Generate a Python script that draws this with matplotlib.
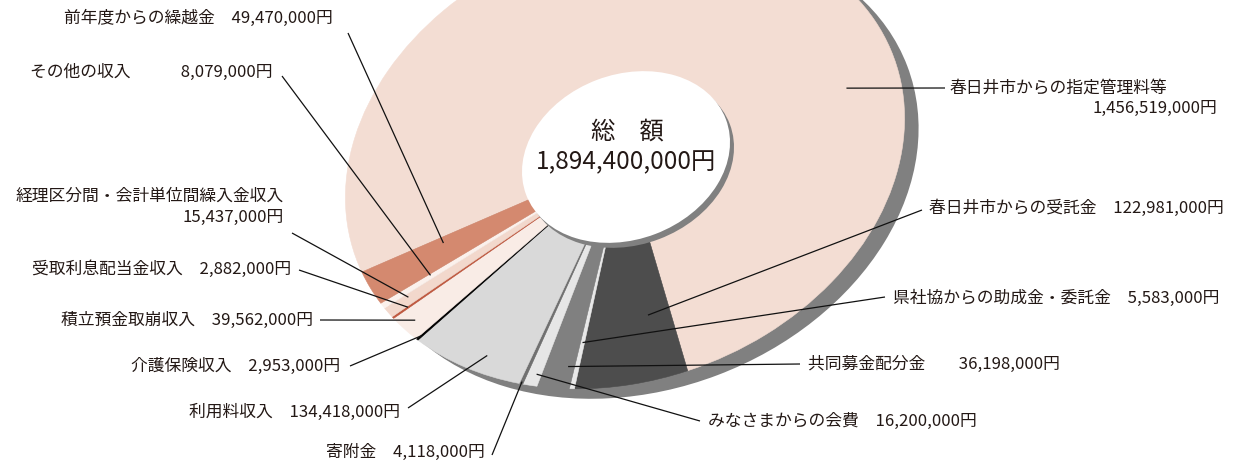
import numpy as np
import matplotlib
matplotlib.use('Agg')
import matplotlib.pyplot as plt
from matplotlib.patches import Wedge, Circle
from matplotlib.transforms import Affine2D

plt.rcParams['font.family'] = ['Noto Sans CJK JP', 'DejaVu Sans']

# 収入の内訳（円）, 時計回り
names = ['春日井市からの指定管理料等', '春日井市からの受託金', '県社協からの助成金・委託金',
         '共同募金配分金', 'みなさまからの会費', '寄附金', '利用料収入', '介護保険収入',
         '積立預金取崩収入', '受取利息配当金収入', '経理区分間・会計単位間繰入金収入',
         'その他の収入', '前年度からの繰越金']
amounts = [1456519000, 122981000, 5583000, 36198000, 16200000, 4118000, 134418000,
           2953000, 39562000, 2882000, 15437000, 8079000, 49470000]
colors = ['#f3ddd3', '#4d4d4d', '#e8e8e8', '#808080', '#e6e6e6', '#707070', '#d9d9d9',
          '#000000', '#f9ece6', '#c0583f', '#f2d8cc', '#fbf1ec', '#d4896f']
seps = ['\n', '　', '　', '　　', '　', '　', '　', '　', '　', '　', '\n', '　　　', '　']

total = sum(amounts)
TXT = '#231815'
FS = 12.1

# ellipse geometry (pixels)
CX, CY = 625, 158
A, B, TILT = 287, 221.5, -20.8
START = 176.6
HOLE = 0.372


def ell(dx=0, dy=0):
    return Affine2D().scale(A, B).rotate_deg(TILT).translate(CX + dx, CY + dy)


fig = plt.figure(figsize=(12.44, 4.62), dpi=100)
ax = fig.add_axes([0, 0, 1, 1])
ax.set_xlim(0, 1244)
ax.set_ylim(462, 0)
ax.axis('off')

# shadow
ax.add_patch(Circle((0, 0), 1, facecolor='#808080', edgecolor='none',
                    transform=ell(14, 10) + ax.transData))

degs = np.array(amounts) / total * 360
edges = START + np.concatenate([[0], np.cumsum(degs)])
tr = ell() + ax.transData
for i in range(len(amounts)):
    ax.add_patch(Wedge((0, 0), 1, edges[i], edges[i + 1], facecolor=colors[i],
                       edgecolor=colors[i], lw=0.4, transform=tr))

# center hole
ax.add_patch(Circle((0, 0), HOLE, facecolor='#808080', edgecolor='none',
                    transform=ell(5, 4) + ax.transData))
ax.add_patch(Circle((0, 0), HOLE, facecolor='white', edgecolor='none',
                    transform=ell(1, -1) + ax.transData))
ax.text(627, 132, '総　額', fontsize=17.5, color=TXT, ha='center', va='center')
ax.text(626, 162, f'{total:,}円', fontsize=17.5, color=TXT, ha='center', va='center')

# callouts: (slice pos frac, radius, line start x, y, text x, y, ha)
layout = [
    (0.678, 0.81, 945, 88, 950, 88, 'left'),
    (0.27, 0.71, 922, 210, 929, 208, 'left'),
    (0.5, 0.80, 885, 297, 893, 298, 'left'),
    (0.22, 0.905, 800, 364, 808, 364, 'left'),
    (0.35, 0.95, 700, 421, 708, 421, 'left'),
    (0.5, 0.99, 492, 455, 485, 452, 'right'),
    (0.39, 0.925, 408, 408, 400, 412, 'right'),
    (0.5, 0.98, 350, 366, 340, 366, 'right'),
    (0.51, 0.95, 320, 320, 313, 320, 'right'),
    (0.5, 0.935, 299, 270, 291, 269, 'right'),
    (0.67, 0.91, 292, 233, 284, 196, 'right'),
    (0.7, 0.80, 282, 76, 272, 72, 'right'),
    (0.77, 0.70, 348, 33, 333, 18, 'right'),
]

for i, (f, r, lx, ly, tx, ty, ha) in enumerate(layout):
    th = np.deg2rad(edges[i] + f * degs[i])
    px, py = ell().transform((r * np.cos(th), r * np.sin(th)))
    ax.plot([lx, px], [ly, py], color='#111111', lw=0.9, solid_capstyle='butt')
    amt = f'{amounts[i]:,}円'
    if seps[i] == '\n':
        if ha == 'left':
            ax.text(tx, ty, names[i], fontsize=FS, color=TXT, ha='left', va='center')
            ax.text(1217, ty + 20, amt, fontsize=FS, color=TXT, ha='right', va='center')
        else:
            ax.text(tx, ty, names[i], fontsize=FS, color=TXT, ha='right', va='center')
            ax.text(tx, ty + 21, amt, fontsize=FS, color=TXT, ha='right', va='center')
    else:
        ax.text(tx, ty, names[i] + seps[i] + amt, fontsize=FS, color=TXT,
                ha=ha, va='center')

fig.savefig('out.png', dpi=100)
plt.close(fig)
